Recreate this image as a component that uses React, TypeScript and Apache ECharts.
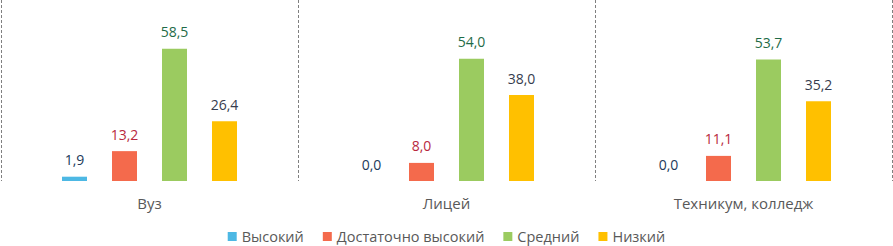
import React, { useEffect, useRef } from "react";
import * as echarts from "echarts";

const categories = ["Вуз", "Лицей", "Техникум, колледж"];
const seriesNames = ["Высокий", "Достаточно высокий", "Средний", "Низкий"];
const vysokiy = [1.9, 0.0, 0.0];
const dostVysokiy = [13.2, 8.0, 11.1];
const sredniy = [58.5, 54.0, 53.7];
const nizkiy = [26.4, 38.0, 35.2];
const barColors = ["#4DB8E4", "#F46A4C", "#9BCB60", "#FFC000"];
const labelColors = ["#22395A", "#B8283E", "#1F6B47", "#363C4E"];

export default function App() {
  const ref = useRef<HTMLDivElement>(null);
  useEffect(() => {
    if (!ref.current) return;
    document.body.style.margin = "0";
    const chart = echarts.init(ref.current, null, { renderer: "svg" });
    const data = [vysokiy, dostVysokiy, sredniy, nizkiy];
    const font = "'Open Sans', Lato, sans-serif";
    chart.setOption({
      animation: false,
      textStyle: { fontFamily: font },
      legend: {
        top: 229,
        left: "center",
        padding: 0,
        itemWidth: 9,
        itemHeight: 9,
        itemGap: 19,
        icon: "rect",
        textStyle: { fontSize: 14.5, color: "#595959", fontFamily: font },
        data: seriesNames,
      },
      grid: { left: 1, right: 1, top: 0, height: 181 },
      xAxis: {
        type: "category",
        data: categories,
        axisLine: { show: false },
        axisTick: { show: false },
        axisLabel: { fontSize: 15, color: "#595959", margin: 14, fontFamily: font },
        splitLine: {
          show: true,
          interval: 0,
          lineStyle: { color: "#808080", type: [3, 2], width: 1 },
        },
      },
      yAxis: {
        type: "value",
        min: 0,
        max: 80,
        show: false,
        splitLine: { show: false },
      },
      series: seriesNames.map((name, i) => ({
        name,
        type: "bar",
        data: data[i],
        barWidth: 25,
        barGap: "100%",
        itemStyle: { color: barColors[i] },
        label: {
          show: true,
          position: "top",
          distance: 10,
          fontSize: 14,
          fontFamily: font,
          color: labelColors[i],
          formatter: (p: any) => Number(p.value).toFixed(1).replace(".", ","),
        },
      })),
    });
    return () => chart.dispose();
  }, []);
  return <div ref={ref} style={{ width: 893, height: 246 }} />;
}
